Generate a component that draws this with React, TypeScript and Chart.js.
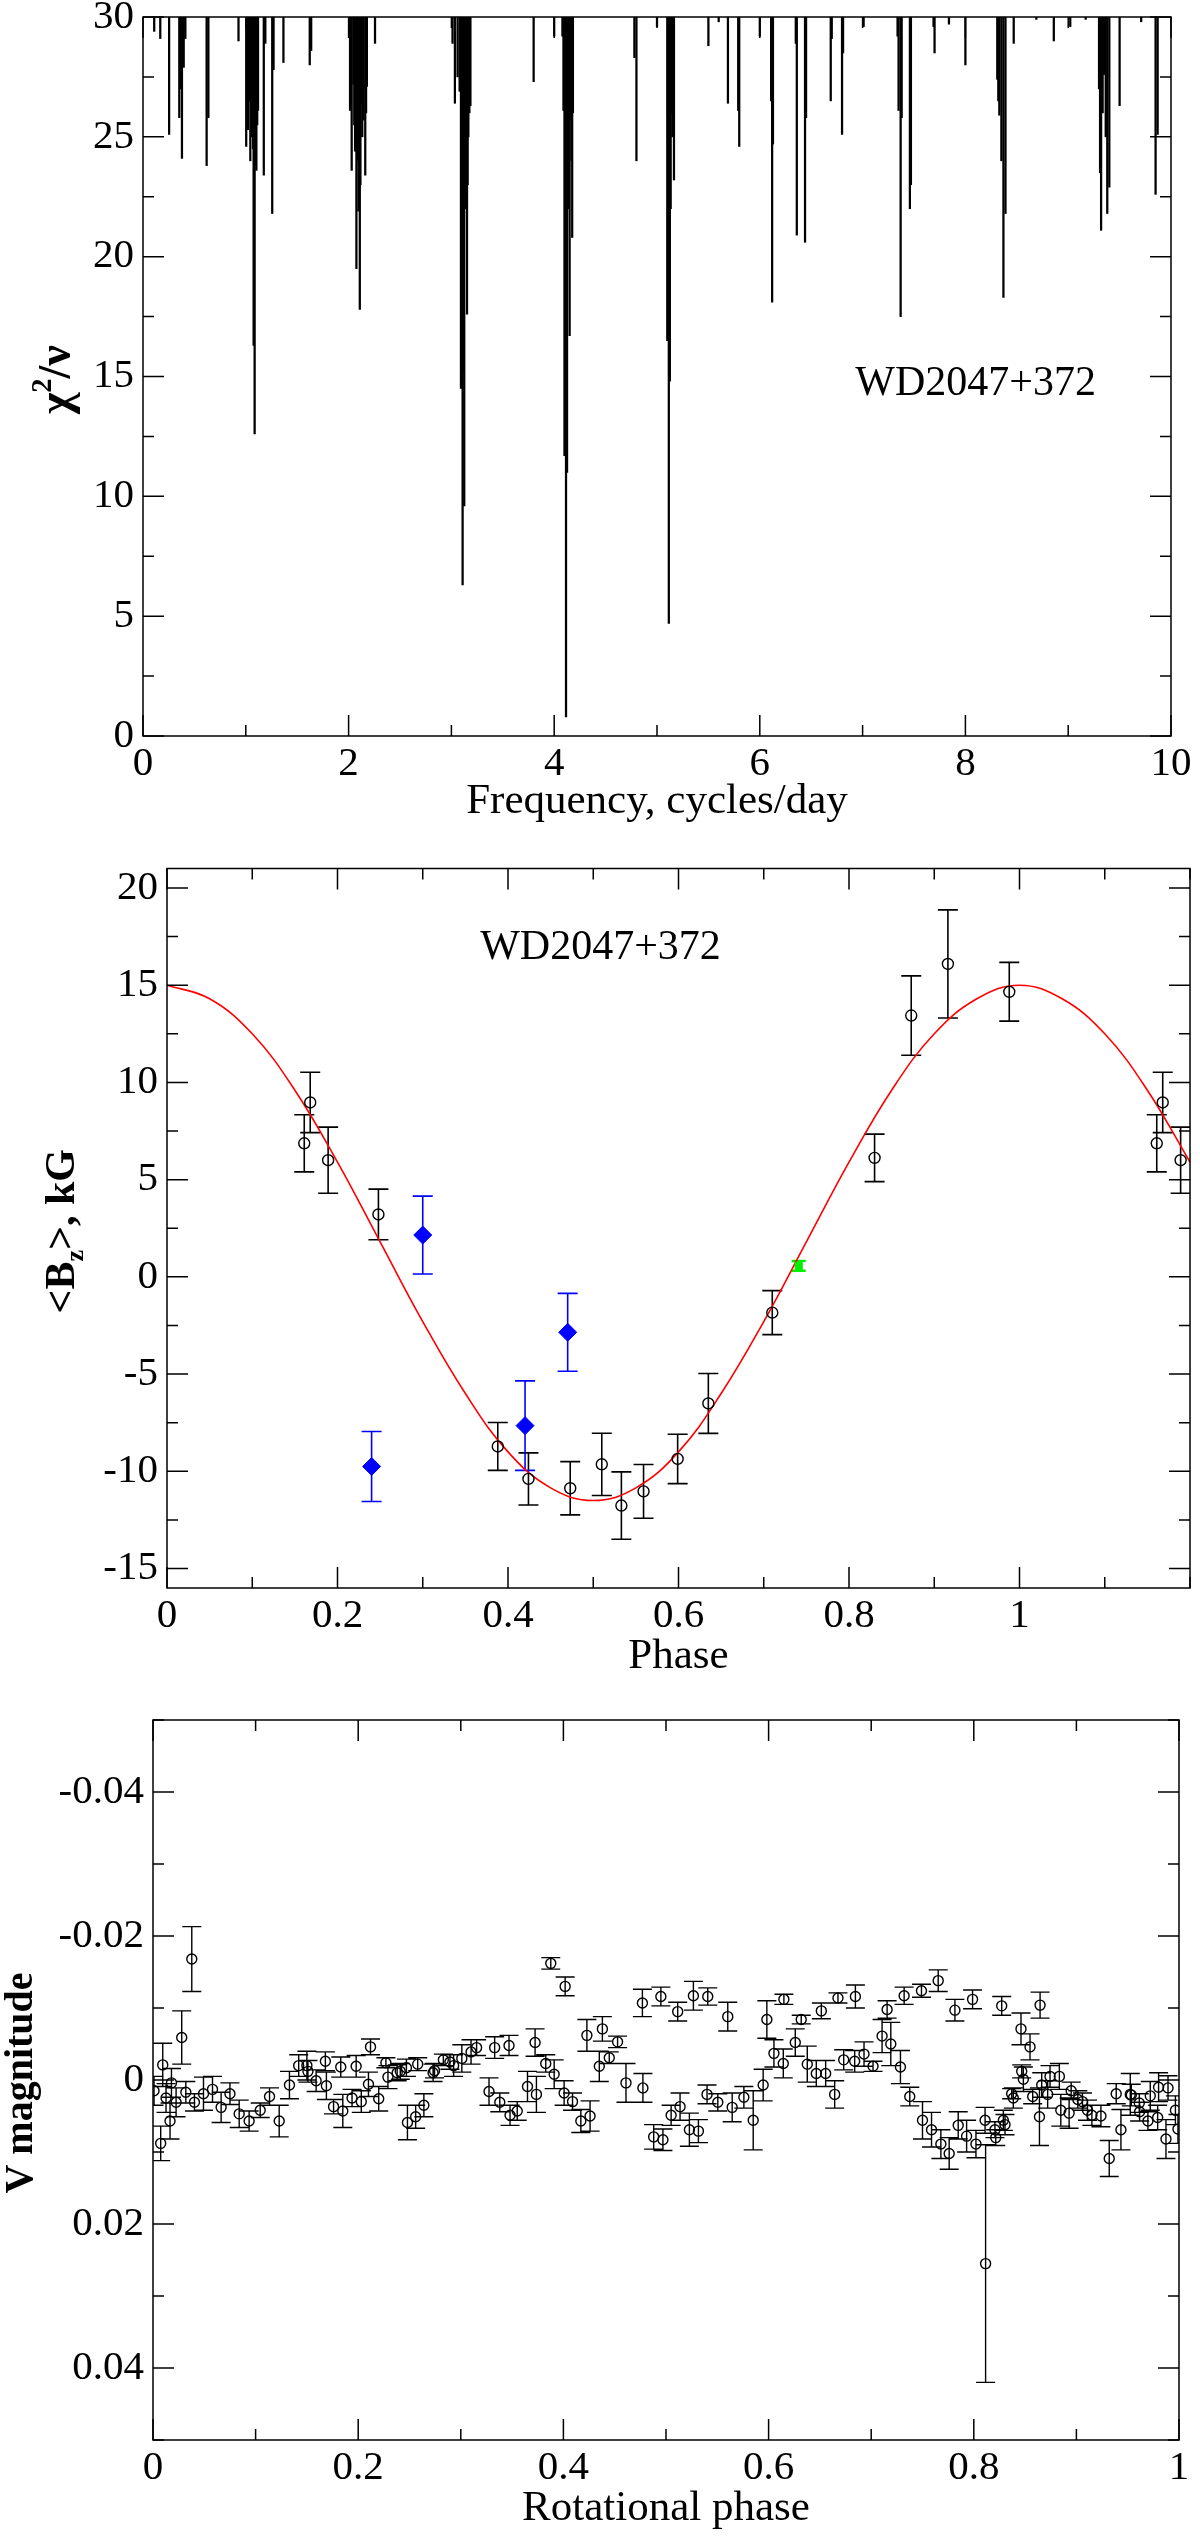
import { useEffect, useRef } from 'react'
import { Chart, registerables } from 'chart.js'

Chart.register(...registerables)

const SERIF = '"Liberation Serif", "DejaVu Serif", serif'

// ---- panel 1: periodogram, frequency of each dip and its lowest chi^2/nu
const specFreq = [
  0.109, 0.168, 0.254, 0.353, 0.365, 0.379, 0.396, 0.412, 0.619, 0.636, 0.929,
  1.004, 1.012, 1.02, 1.032, 1.044, 1.053, 1.063, 1.07, 1.076, 1.086, 1.094, 1.103, 1.111, 1.119,
  1.175, 1.19, 1.257, 1.27, 1.366, 1.622, 1.636,
  2.014, 2.03, 2.047, 2.055, 2.063, 2.076, 2.086, 2.096, 2.109, 2.115, 2.122, 2.133, 2.145, 2.162, 2.17, 2.178, 2.257,
  3.011, 3.034, 3.06, 3.08, 3.093, 3.101, 3.109, 3.117, 3.125, 3.133, 3.142, 3.152, 3.158, 3.165, 3.175, 3.185,
  3.8, 4.0, 4.08, 4.09, 4.1, 4.108, 4.115, 4.125, 4.133, 4.142, 4.15, 4.16, 4.168, 4.175, 4.182,
  4.78, 4.8, 5.0, 5.1, 5.108, 5.115, 5.125, 5.133, 5.14, 5.15, 5.165,
  5.5, 5.6, 5.69, 5.79, 5.8, 6.0, 6.11, 6.12, 6.128, 6.35, 6.36, 6.44, 6.45, 6.69, 6.7, 6.8, 6.81, 7.01,
  7.34, 7.35, 7.37, 7.38, 7.46, 7.47, 7.69, 7.7, 7.84, 8.0,
  8.31, 8.32, 8.33, 8.35, 8.37, 8.39, 8.47, 8.69, 8.86, 9.02, 9.17,
  9.3, 9.31, 9.32, 9.335, 9.35, 9.365, 9.38, 9.4, 9.5, 9.71, 9.85, 9.87,
]
const specChi = [
  29.4, 29.1, 25.1, 25.8, 27.0, 24.1, 27.9, 29.1, 23.8, 25.8, 29.0,
  24.6, 26.0, 25.3, 26.5, 24.0, 25.0, 26.1, 24.5, 16.3, 12.6, 23.8, 23.6, 25.5, 26.1,
  23.4, 28.9, 21.8, 27.8, 28.1, 28.0, 28.6,
  26.1, 23.6, 27.2, 25.5, 24.4, 19.5, 24.0, 21.9, 17.8, 23.0, 26.4, 25.0, 25.7, 23.4, 26.0, 27.1, 28.9,
  28.9, 26.4, 27.5, 26.9, 14.5, 20.0, 6.3, 15.2, 9.6, 22.0, 24.1, 17.6, 23.0, 25.0, 26.0, 26.3,
  27.3, 29.2, 29.2, 26.1, 11.7, 20.0, 0.8, 11.0, 22.0, 24.0, 16.7, 25.7, 24.0, 20.8, 26.0,
  28.3, 24.0, 29.6, 16.5, 20.0, 4.7, 14.8, 22.0, 26.0, 25.0, 23.2,
  28.8, 29.8, 26.4, 26.1, 24.6, 29.2, 26.5, 18.1, 24.7, 28.9, 20.9, 20.6, 25.8, 26.5, 29.1, 25.1, 28.5, 29.6,
  29.2, 26.1, 17.5, 25.8, 22.0, 23.0, 29.6, 28.5, 29.7, 28.0,
  27.4, 26.5, 25.9, 24.0, 18.3, 21.8, 28.9, 29.9, 29.0, 29.6, 29.9,
  27.0, 23.5, 21.1, 26.0, 27.6, 25.0, 21.8, 22.9, 26.3, 29.8, 22.6, 25.1,
]

// ---- panel 2: longitudinal field against phase
const bzPhase = [0.161, 0.168, 0.189, 0.248, 0.388, 0.424, 0.473, 0.51, 0.533, 0.559, 0.599, 0.635, 0.71, 0.83, 0.873, 0.916, 0.988, 1.161, 1.168, 1.189]
const bzValue = [6.87, 8.97, 6.0, 3.21, -8.72, -10.39, -10.87, -9.64, -11.76, -11.03, -9.36, -6.51, -1.84, 6.12, 13.44, 16.09, 14.66, 6.87, 8.97, 6.0]
const bzError = [1.47, 1.55, 1.7, 1.3, 1.23, 1.34, 1.37, 1.6, 1.73, 1.38, 1.27, 1.54, 1.13, 1.22, 2.04, 2.78, 1.51, 1.47, 1.55, 1.7]

const bluePhase = [0.24, 0.3, 0.42, 0.47]
const blueValue = [-9.75, 2.15, -7.65, -2.85]
const blueError = [1.8, 2.0, 2.3, 2.0]

const greenPhase = [0.741]
const greenValue = [0.56]
const greenError = [0.25]

const fitPhase = [0, 0.05, 0.1, 0.15, 0.2, 0.25, 0.3, 0.35, 0.4, 0.45, 0.5, 0.55, 0.6, 0.65, 0.7, 0.75, 0.8, 0.85, 0.9, 0.95, 1.0, 1.05, 1.1, 1.15, 1.2]
const fitValue = [15.0, 14.3, 12.5, 9.6, 5.9, 1.8, -2.3, -6.0, -9.0, -10.85, -11.5, -10.85, -9.0, -6.0, -2.3, 1.8, 5.9, 9.6, 12.5, 14.3, 15.0, 14.3, 12.5, 9.6, 5.9]

// ---- panel 3: V photometry against rotational phase
const phPhase = [
  0.001, 0.0075, 0.0095, 0.0127, 0.0166, 0.018, 0.0225, 0.028, 0.032, 0.0378, 0.0404, 0.0492, 0.058, 0.0664, 0.075, 0.084, 0.0937,
  0.1045, 0.1136, 0.123, 0.133, 0.142, 0.15, 0.151, 0.159, 0.168, 0.169, 0.176, 0.183, 0.185, 0.194, 0.198,
  0.203, 0.21, 0.212, 0.22, 0.227, 0.229, 0.238, 0.241, 0.247, 0.248, 0.256, 0.258, 0.264, 0.273, 0.2744, 0.283, 0.2894, 0.293,
  0.301, 0.31, 0.3154, 0.3275, 0.333, 0.338, 0.347, 0.348, 0.355, 0.365, 0.3724, 0.3737, 0.3828, 0.3877, 0.391,
  0.4007, 0.4017, 0.4089, 0.417, 0.4229, 0.426, 0.435, 0.438, 0.4447, 0.4528, 0.461, 0.477, 0.4775, 0.488, 0.495, 0.497,
  0.505, 0.5114, 0.5137, 0.5228, 0.5267, 0.5316, 0.54, 0.5407, 0.5505, 0.5602, 0.5645, 0.5759, 0.585, 0.5947, 0.5983,
  0.6052, 0.6143, 0.6149, 0.626, 0.6318, 0.6377, 0.6465, 0.6514, 0.6556, 0.6644, 0.6676, 0.6732, 0.6839, 0.6846, 0.693,
  0.7018, 0.7106, 0.7155, 0.7191, 0.7285, 0.7321, 0.7376, 0.749, 0.75, 0.7588, 0.7653, 0.7679, 0.776, 0.7816, 0.7848, 0.793, 0.7988,
  0.8021, 0.811, 0.8115, 0.8206, 0.8214, 0.8272, 0.8288, 0.8304, 0.8369, 0.8385, 0.846, 0.8467, 0.8483, 0.8548, 0.8574,
  0.864, 0.8646, 0.8662, 0.872, 0.8743, 0.8834, 0.8848, 0.8929, 0.8949,
  0.9014, 0.9059, 0.9108, 0.9151, 0.9239, 0.932, 0.9388, 0.9434, 0.9525, 0.9535, 0.9613, 0.9616, 0.9697, 0.972, 0.9792, 0.9801,
  0.9873, 0.9893, 0.9965, 0.999,
]
const phMag = [
  0.0015, 0.0088, -0.0021, 0.0025, 0.0057, 0.0004, 0.0031, -0.0059, 0.0017, -0.0168, 0.0031, 0.0019, 0.0013, 0.0038, 0.0019, 0.0047, 0.0057,
  0.0042, 0.0023, 0.0057, 0.0007, -0.002, -0.002, -0.0012, 0.0001, -0.0026, 0.0008, 0.0037, -0.0018, 0.0043, 0.0025, -0.0019,
  0.003, 0.0006, -0.0046, 0.0026, -0.0024, -0.0004, -0.001, -0.0012, -0.0017, 0.0059, 0.0051, -0.0022, 0.0035, -0.001, -0.0013, -0.0028, -0.0025, -0.002,
  -0.003, -0.0039, -0.0045, 0.0016, -0.0045, 0.0031, -0.0048, 0.0049, 0.0043, 0.0009, -0.0052, 0.002, -0.0023, -0.0162, -0.0008,
  0.0018, -0.013, 0.003, 0.0057, -0.0062, 0.005, -0.0019, -0.0071, -0.0031, -0.0053, 0.0004, -0.0107, 0.0011, 0.0079, -0.0116, 0.0083,
  0.0049, -0.0095, 0.0037, 0.0069, -0.0117, 0.0071, 0.002, -0.0116, 0.0031, -0.0088, 0.0038, 0.0024, 0.0056, 0.0007, -0.0084,
  -0.0037, -0.0023, -0.0112, -0.0052, -0.0084, -0.0022, -0.0009, -0.0096, -0.0009, 0.002, -0.0114, -0.0028, -0.0026, -0.0116, -0.0036,
  -0.0019, -0.0061, -0.0098, -0.005, -0.0018, -0.0117, 0.0023, -0.0124, 0.0056, 0.0069, -0.0138, 0.0089, 0.0102, -0.0097, 0.0063, 0.0078, -0.0112,
  0.0089, 0.0056, 0.0255, 0.0069, 0.008, -0.0103, 0.0056, 0.0062, 0.0019, 0.0025, -0.0071, -0.0012, -0.0001, -0.0046, 0.0023,
  0.0051, -0.0104, 0.0007, 0.002, -0.0005, -0.0005, 0.0042, 0.0046, 0.0015,
  0.0027, 0.003, 0.0042, 0.0049, 0.005, 0.0109, 0.0019, 0.0069, 0.002, 0.0021, 0.0032, 0.0044, 0.0057, 0.0022, 0.0052, 0.001,
  0.0082, 0.0011, 0.0042, 0.0068,
]
const phErr = [
  0.002, 0.0024, 0.003, 0.002, 0.0025, 0.002, 0.002, 0.0037, 0.0015, 0.0045, 0.0012, 0.0023, 0.0018, 0.0021, 0.0015, 0.0019, 0.0014,
  0.001, 0.0012, 0.0022, 0.0019, 0.0015, 0.002, 0.0015, 0.0015, 0.0013, 0.0019, 0.001, 0.0014, 0.0023, 0.0012, 0.0015,
  0.0015, 0.0017, 0.0011, 0.0017, 0.0007, 0.0016, 0.0011, 0.0011, 0.0012, 0.0024, 0.0016, 0.0009, 0.0016, 0.0012, 0.001, 0.0008, 0.001, 0.0015,
  0.0019, 0.0017, 0.0011, 0.0019, 0.0015, 0.0013, 0.0014, 0.0014, 0.0013, 0.0021, 0.0019, 0.0025, 0.0012, 0.0008, 0.002,
  0.0017, 0.0013, 0.0012, 0.0016, 0.0022, 0.0021, 0.0021, 0.0017, 0.0008, 0.0008, 0.0027, 0.0019, 0.002, 0.0017, 0.0013, 0.0015,
  0.0014, 0.0013, 0.0019, 0.0023, 0.002, 0.0016, 0.0013, 0.0012, 0.0012, 0.002, 0.002, 0.0015, 0.0041, 0.0022, 0.0026,
  0.0019, 0.002, 0.0007, 0.0019, 0.0006, 0.0025, 0.0018, 0.0011, 0.0018, 0.0019, 0.0007, 0.0014, 0.0015, 0.0016, 0.0017,
  0.0007, 0.0023, 0.0012, 0.003, 0.0023, 0.0012, 0.0013, 0.0009, 0.0026, 0.0024, 0.0015, 0.002, 0.0022, 0.0015, 0.0019, 0.0022, 0.0013,
  0.0019, 0.0018, 0.0165, 0.0011, 0.0011, 0.0013, 0.0014, 0.0014, 0.0007, 0.0014, 0.0022, 0.0009, 0.0017, 0.0018, 0.001,
  0.004, 0.0018, 0.0017, 0.0019, 0.0015, 0.0018, 0.0022, 0.0021, 0.0012,
  0.0012, 0.0012, 0.0014, 0.0014, 0.0015, 0.0025, 0.0014, 0.0028, 0.0029, 0.0015, 0.0013, 0.0013, 0.0013, 0.002, 0.0017, 0.002,
  0.0027, 0.0017, 0.002, 0.002,
]

type Part = { text: string; mode?: 'sup' | 'sub' }
interface Decor {
  xTitle: string
  xTitleGap: number
  yTitle: Part[]
  yTitleX: number
  yTitleSize: number
  note?: { text: string; x: number; y: number }
}

const pts = (xs: number[], ys: number[]) => xs.map((x, i) => ({ x, y: ys[i] }))

function axis(o: { min: number; max: number; step: number; every: number; size: number; horizontal: boolean; reverse?: boolean; hide?: number }) {
  return {
    type: 'linear',
    min: o.min,
    max: o.max,
    reverse: !!o.reverse,
    offset: false,
    grid: { display: false, drawTicks: false, offset: false },
    border: { display: false },
    ticks: {
      stepSize: o.step,
      includeBounds: false,
      autoSkip: false,
      maxRotation: 0,
      minRotation: 0,
      maxTicksLimit: 100,
      padding: o.horizontal ? 4 : 9,
      color: '#000',
      font: { family: SERIF, size: 41 },
      callback: (v: number | string) => {
        const n = Number(v)
        if (o.hide !== undefined && Math.abs(n - o.hide) < 1e-9) return ''
        const r = n / o.every
        return Math.abs(r - Math.round(r)) < 1e-6 ? String(Number(n.toFixed(3))) : ''
      },
    },
    afterFit: (s: any) => {
      if (o.horizontal) s.height = o.size
      else s.width = o.size
      s.paddingTop = 0
      s.paddingBottom = 0
      s.paddingLeft = 0
      s.paddingRight = 0
    },
  }
}

function decor(d: Decor) {
  return {
    id: 'decor',
    beforeDatasetsDraw(chart: any) {
      const { ctx, chartArea: a } = chart
      const ys = chart.scales.y
      ctx.save()
      ctx.beginPath()
      ctx.rect(a.left, a.top, a.right - a.left, a.bottom - a.top)
      ctx.clip()
      chart.data.datasets.forEach((ds: any, i: number) => {
        if (!ds.errors) return
        const meta = chart.getDatasetMeta(i)
        ctx.strokeStyle = ds.borderColor
        ctx.lineWidth = ds.errorWidth || 1.5
        ctx.beginPath()
        meta.data.forEach((el: any, j: number) => {
          const v = ds.data[j].y
          const e = ds.errors[j]
          const y1 = ys.getPixelForValue(v - e)
          const y2 = ys.getPixelForValue(v + e)
          const c = ds.capHalf
          ctx.moveTo(el.x, y1)
          ctx.lineTo(el.x, y2)
          ctx.moveTo(el.x - c, y1)
          ctx.lineTo(el.x + c, y1)
          ctx.moveTo(el.x - c, y2)
          ctx.lineTo(el.x + c, y2)
        })
        ctx.stroke()
      })
      ctx.restore()
    },
    afterDraw(chart: any) {
      const { ctx, chartArea: a } = chart
      const xs = chart.scales.x
      const ys = chart.scales.y
      ctx.save()
      ctx.strokeStyle = '#000'
      ctx.lineWidth = 1.5
      ctx.beginPath()
      for (const t of xs.ticks) {
        const p = xs.getPixelForValue(t.value)
        const len = t.label ? 21 : 11
        ctx.moveTo(p, a.bottom)
        ctx.lineTo(p, a.bottom - len)
        ctx.moveTo(p, a.top)
        ctx.lineTo(p, a.top + len)
      }
      for (const t of ys.ticks) {
        const p = ys.getPixelForValue(t.value)
        const len = t.label ? 21 : 11
        ctx.moveTo(a.left, p)
        ctx.lineTo(a.left + len, p)
        ctx.moveTo(a.right, p)
        ctx.lineTo(a.right - len, p)
      }
      ctx.stroke()
      ctx.strokeRect(a.left, a.top, a.right - a.left, a.bottom - a.top)

      ctx.fillStyle = '#000'
      ctx.textAlign = 'center'
      ctx.textBaseline = 'alphabetic'
      ctx.font = `43px ${SERIF}`
      ctx.fillText(d.xTitle, (a.left + a.right) / 2, a.bottom + d.xTitleGap)

      if (d.note) {
        ctx.font = `42px ${SERIF}`
        ctx.textBaseline = 'middle'
        ctx.fillText(d.note.text, xs.getPixelForValue(d.note.x), ys.getPixelForValue(d.note.y))
      }

      // rotated y title with optional super/subscript pieces
      ctx.translate(d.yTitleX, (a.top + a.bottom) / 2 + 3)
      ctx.rotate(-Math.PI / 2)
      ctx.textAlign = 'left'
      ctx.textBaseline = 'alphabetic'
      const fs = d.yTitleSize
      const parts = d.yTitle.map((p) => {
        const size = p.mode ? fs * 0.62 : fs
        ctx.font = `bold ${size}px ${SERIF}`
        return { ...p, size, w: ctx.measureText(p.text).width }
      })
      let x = -parts.reduce((s, p) => s + p.w, 0) / 2
      for (const p of parts) {
        ctx.font = `bold ${p.size}px ${SERIF}`
        const dy = p.mode === 'sup' ? -fs * 0.42 : p.mode === 'sub' ? fs * 0.22 : 0
        ctx.fillText(p.text, x, dy)
        x += p.w
      }
      ctx.restore()
    },
  }
}

const baseOptions = {
  responsive: false,
  animation: false,
  events: [],
  plugins: { legend: { display: false }, tooltip: { enabled: false } },
}

function makeSpectrum(canvas: HTMLCanvasElement) {
  return new Chart(canvas, {
    type: 'bar',
    data: {
      datasets: [{
        data: specFreq.map((f, i) => ({ x: f, y: [specChi[i], 30] })),
        backgroundColor: '#000',
        borderWidth: 0,
        barThickness: 1.6,
        grouped: false,
      }],
    },
    options: {
      ...baseOptions,
      layout: { padding: { left: 0, right: 29, top: 17, bottom: 0 } },
      scales: {
        x: axis({ min: 0, max: 10, step: 1, every: 2, size: 94, horizontal: true }),
        y: axis({ min: 0, max: 30, step: 2.5, every: 5, size: 143, horizontal: false }),
      },
    },
    plugins: [decor({
      xTitle: 'Frequency, cycles/day',
      xTitleGap: 77,
      yTitle: [{ text: 'χ' }, { text: '2', mode: 'sup' }, { text: '/ν' }],
      yTitleX: 70,
      yTitleSize: 46,
      note: { text: 'WD2047+372', x: 8.1, y: 14.7 },
    })],
  } as any)
}

function makeField(canvas: HTMLCanvasElement) {
  return new Chart(canvas, {
    type: 'scatter',
    data: {
      datasets: [
        {
          data: pts(bzPhase, bzValue),
          errors: bzError,
          capHalf: 10,
          errorWidth: 1.6,
          pointStyle: 'circle',
          pointRadius: 5.5,
          borderWidth: 1.4,
          borderColor: '#000',
          backgroundColor: 'rgba(0,0,0,0)',
          clip: 0,
        },
        {
          data: pts(bluePhase, blueValue),
          errors: blueError,
          capHalf: 10,
          errorWidth: 1.6,
          pointStyle: 'rectRot',
          pointRadius: 9,
          borderWidth: 1,
          borderColor: '#0000ff',
          backgroundColor: '#0000ff',
        },
        {
          data: pts(greenPhase, greenValue),
          errors: greenError,
          capHalf: 7,
          errorWidth: 2.5,
          pointStyle: 'rect',
          pointRadius: 5,
          borderWidth: 1,
          borderColor: '#00ee00',
          backgroundColor: '#00ee00',
        },
        {
          data: pts(fitPhase, fitValue),
          showLine: true,
          tension: 0.4,
          pointRadius: 0,
          borderColor: '#ff0000',
          borderWidth: 1.6,
        },
      ],
    },
    options: {
      ...baseOptions,
      layout: { padding: { left: 0, right: 4, top: 38.5, bottom: 0 } },
      scales: {
        x: axis({ min: 0, max: 1.2, step: 0.1, every: 0.2, size: 102, horizontal: true, hide: 1.2 }),
        y: axis({ min: -16, max: 21, step: 2.5, every: 5, size: 167, horizontal: false }),
      },
    },
    plugins: [decor({
      xTitle: 'Phase',
      xTitleGap: 80,
      yTitle: [{ text: '<B' }, { text: 'z', mode: 'sub' }, { text: '>, kG' }],
      yTitleX: 74,
      yTitleSize: 42,
      note: { text: 'WD2047+372', x: 0.5085, y: 16.9 },
    })],
  } as any)
}

function makePhotometry(canvas: HTMLCanvasElement) {
  return new Chart(canvas, {
    type: 'scatter',
    data: {
      datasets: [{
        data: pts(phPhase, phMag),
        errors: phErr,
        capHalf: 9.5,
        errorWidth: 1.4,
        pointStyle: 'circle',
        pointRadius: 5,
        borderWidth: 1.4,
        borderColor: '#000',
        backgroundColor: 'rgba(0,0,0,0)',
        clip: 0,
      }],
    },
    options: {
      ...baseOptions,
      layout: { padding: { left: 0, right: 21, top: 30, bottom: 0 } },
      scales: {
        x: axis({ min: 0, max: 1, step: 0.1, every: 0.2, size: 100, horizontal: true }),
        y: axis({ min: -0.05, max: 0.05, step: 0.01, every: 0.02, size: 153, horizontal: false, reverse: true }),
      },
    },
    plugins: [decor({
      xTitle: 'Rotational phase',
      xTitleGap: 80,
      yTitle: [{ text: 'V magnitude' }],
      yTitleX: 32,
      yTitleSize: 40,
    })],
  } as any)
}

function Panel({ top, height, make }: { top: number; height: number; make: (c: HTMLCanvasElement) => Chart }) {
  const ref = useRef<HTMLCanvasElement>(null)
  useEffect(() => {
    if (!ref.current) return
    const chart = make(ref.current)
    return () => chart.destroy()
  }, [make])
  return (
    <canvas
      ref={ref}
      width={1200}
      height={height}
      style={{ position: 'absolute', left: 0, top, width: 1200, height, display: 'block' }}
    />
  )
}

export default function App() {
  return (
    <div style={{ position: 'absolute', left: 0, top: 0, width: 1200, height: 2540, background: '#fff' }}>
      <Panel top={0} height={830} make={makeSpectrum} />
      <Panel top={830} height={860} make={makeField} />
      <Panel top={1690} height={850} make={makePhotometry} />
    </div>
  )
}
